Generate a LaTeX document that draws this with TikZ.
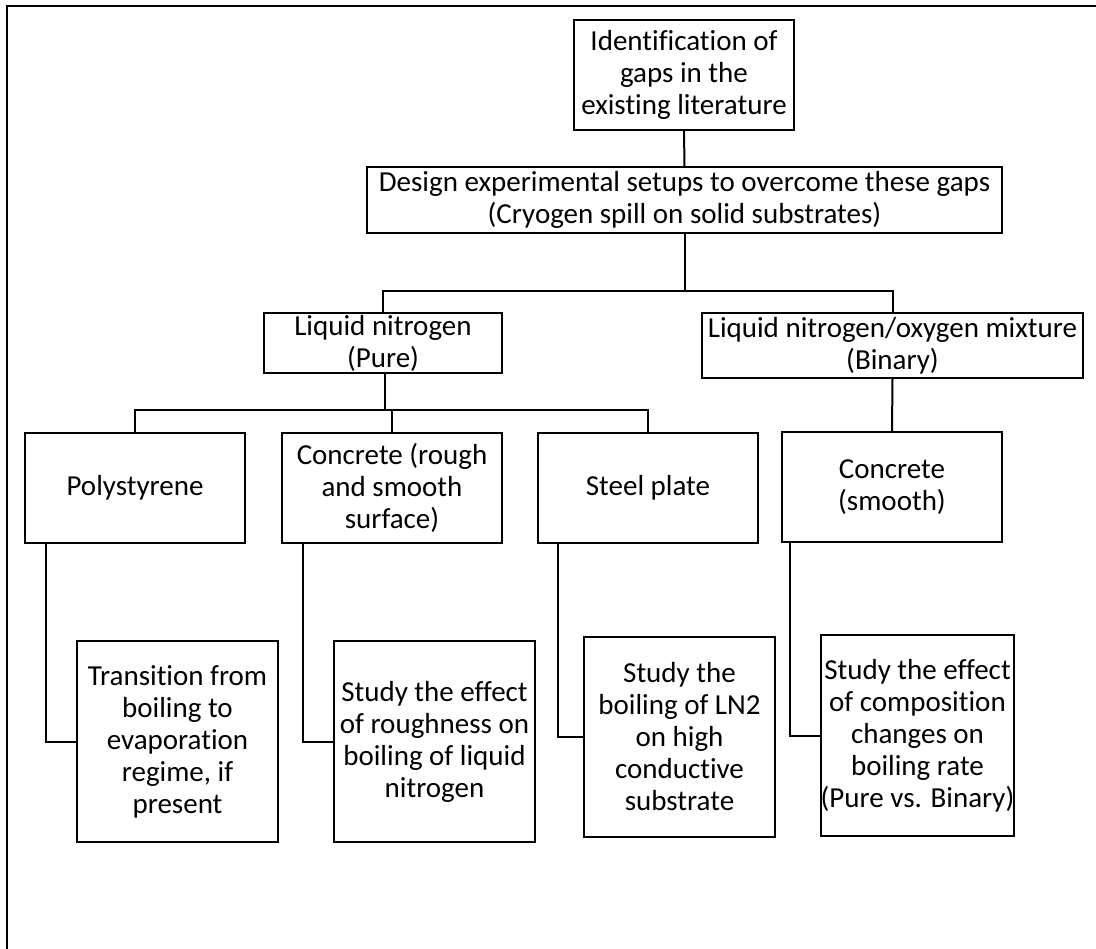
\documentclass[tikz,border=0pt]{standalone}
\usepackage{fontspec}
\setmainfont{Carlito}[Ligatures={NoCommon}]
\usetikzlibrary{positioning}

\begin{document}
\begin{tikzpicture}[x=1pt,y=-1pt,line width=2pt,
  box/.style={draw,align=center,inner sep=0pt,font=\fontsize{29}{32}\selectfont}]

  \useasboundingbox (0,0) rectangle (1096,949);
  \draw[line width=2.2pt] (7,949) -- (7,6) -- (1096,6);

  \node[box,minimum width=220,minimum height=110] (ident) at (684,75) {Identification of\\gaps in the\\existing literature};
  \node[box,minimum width=635,minimum height=66] (design) at (684.5,200) {Design experimental setups to overcome these gaps\\(Cryogen spill on solid substrates)};

  \node[box,minimum width=238,minimum height=60] (pure) at (383,343) {Liquid nitrogen\\(Pure)};
  \node[box,minimum width=381,minimum height=65] (binary) at (892.5,345.5) {Liquid nitrogen/oxygen mixture\\(Binary)};

  \node[box,minimum width=220,minimum height=110] (poly) at (135,488) {Polystyrene};
  \node[box,minimum width=220,minimum height=110] (concR) at (392,488) {Concrete (rough\\and smooth\\surface)};
  \node[box,minimum width=220,minimum height=110] (steel) at (648,488) {Steel plate};
  \node[box,minimum width=220,minimum height=110] (concS) at (892,487) {Concrete\\(smooth)};

  \node[box,minimum width=201,minimum height=201] (trans) at (177.5,741.5) {Transition from\\boiling to\\evaporation\\regime, if\\present};
  \node[box,minimum width=201,minimum height=201] (rough) at (434.5,741.5) {Study the effect\\of roughness on\\boiling of liquid\\nitrogen};
  \node[box,minimum width=191,minimum height=200] (ln2) at (679.5,737) {Study the\\boiling of LN2\\on high\\conductive\\substrate};
  \node[box,minimum width=191,minimum height=201] (comp) at (917.5,735.5) {Study the effect\\of composition\\changes on\\boiling rate\\(Pure vs. Binary)};

  \draw (ident.south) -- (design.north);
  \draw (design.south) -- ++(0,57) coordinate (j1);
  \draw (pure.north) |- (j1) -| (binary.north);
  \draw ([xshift=2pt]pure.south) -- ++(0,36) coordinate (j2);
  \draw (poly.north) |- (j2) -| (steel.north);
  \draw (concR.north) -- (concR.north |- j2);
  \draw (binary.south) -- (concS.north);

  \draw ([xshift=22pt]poly.south west) |- (trans.west);
  \draw ([xshift=22pt]concR.south west) |- (rough.west);
  \draw ([xshift=21pt]steel.south west) |- (ln2.west);
  \draw ([xshift=9pt]concS.south west) |- (comp.west);
\end{tikzpicture}
\end{document}
